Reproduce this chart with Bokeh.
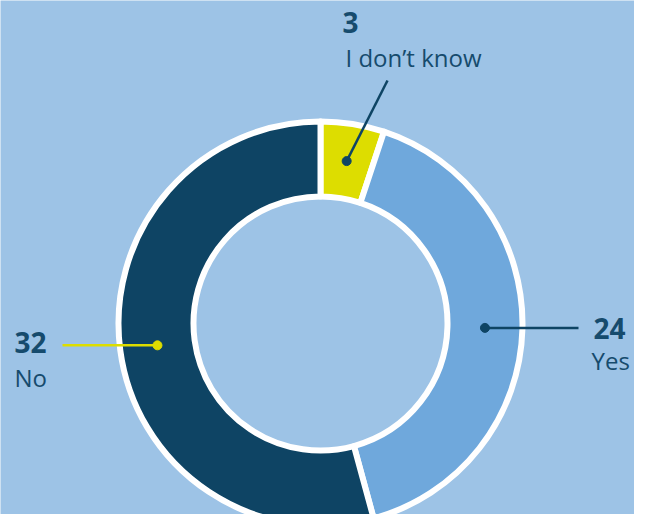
import math
from bokeh.plotting import figure
from bokeh.models import Range1d
from bokeh.core.properties import value
from bokeh.embed import file_html
from bokeh.resources import INLINE

categories = ["I don't know", "Yes", "No"]
values = [3, 24, 32]
colors = ["#dddd00", "#6fa8dc", "#0e4464"]
dot_colors = ["#0e4464", "#0e4464", "#dddd00"]

BG = "#9dc3e6"
TEXT = "#164b6d"
FONT = "Open Sans"

W, H = 634, 514
p = figure(width=W, height=H, output_backend="svg", toolbar_location=None,
           x_range=Range1d(0, W), y_range=Range1d(-H, 0),
           x_axis_type=None, y_axis_type=None, min_border=0,
           background_fill_color=BG, border_fill_color=BG)
p.grid.visible = False
p.outline_line_color = None

cx, cy = 320, -323
r_out, r_in = 202, 127
total = sum(values)

cum = 0
mids = []
for cat, v, c in zip(categories, values, colors):
    a0 = math.pi / 2 - 2 * math.pi * cum / total
    cum += v
    a1 = math.pi / 2 - 2 * math.pi * cum / total
    p.annular_wedge(x=cx, y=cy, inner_radius=r_in, outer_radius=r_out,
                    start_angle=a0, end_angle=a1, direction="clock",
                    fill_color=c, line_color="white", line_width=6,
                    line_join="round")
    mids.append((a0 + a1) / 2)

r_mid = (r_in + r_out) / 2
dots = [(cx + r_mid * math.cos(a), cy + r_mid * math.sin(a)) for a in mids]

# leader ends
ends = [(387, -80), (578, dots[1][1]), (62, dots[2][1])]
for (dx, dy), (ex, ey), dc in zip(dots, ends, dot_colors):
    p.line([dx, ex], [dy, ey], line_color=dc, line_width=2.5)
    p.scatter([dx], [dy], size=9, fill_color=dc, line_color=dc)

# labels: (value pos, category pos)
label_pos = [((342, -22), (345, -57)), ((593, -328), (591, -360)), ((14, -342), (14, -377))]
for cat, v, ((vx, vy), (lx, ly)) in zip(categories, values, label_pos):
    p.text([vx], [vy], text=[str(v)], text_font=value(FONT), text_font_style="bold",
           text_font_size="28px", text_color=TEXT, text_baseline="middle", text_align="left")
    p.text([lx], [ly], text=[cat.replace("'", "\u2019")], text_font=value(FONT),
           text_font_size="24px", text_color=TEXT, text_baseline="middle", text_align="left")

open("out.html", "w").write(file_html(p, INLINE))
